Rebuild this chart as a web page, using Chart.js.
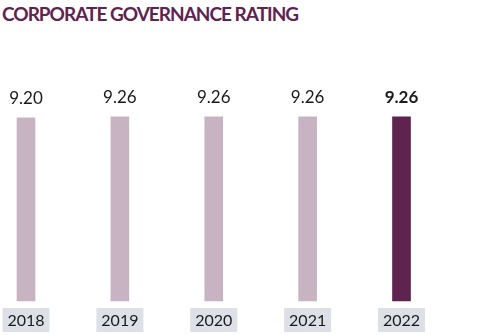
<!DOCTYPE html>
<html>
<head>
<meta charset="utf-8">
<script src="https://cdn.jsdelivr.net/npm/chart.js@4"></script>
<style>
  html, body { margin: 0; padding: 0; background: #fff; }
  #wrap { position: relative; width: 500px; height: 335px; }
  #titulo {
    position: absolute; left: 2px; top: 2px;
    font-family: Lato, sans-serif; font-weight: 700; font-size: 19px;
    color: #5f2350; letter-spacing: -1px; white-space: nowrap;
  }
  #grafico { position: absolute; left: 0; top: 0; }
</style>
</head>
<body>
<div id="wrap">
  <div id="titulo">CORPORATE GOVERNANCE RATING</div>
  <canvas id="grafico" width="500" height="335"></canvas>
</div>
<script>
const years = ["2018", "2019", "2020", "2021", "2022"];
const ratings = [9.20, 9.26, 9.26, 9.26, 9.26];
const ratingLabels = ["9.20", "9.26", "9.26", "9.26", "9.26"];

const claro = "#c8b3c2";
const oscuro = "#5f2350";

// valores encima de cada barra y años en cajitas grises debajo
const etiquetas = {
    id: "etiquetas",
    afterDatasetsDraw(chart) {
        const ctx = chart.ctx;
        const meta = chart.getDatasetMeta(0);
        const last = years.length - 1;
        ctx.save();
        ctx.textAlign = "center";
        ctx.textBaseline = "middle";
        meta.data.forEach((bar, i) => {
            ctx.fillStyle = "#1a1a1a";
            ctx.font = (i === last ? "bold " : "") + "17px Lato";
            ctx.fillText(ratingLabels[i], bar.x, bar.y - 19);
        });
        const xs = chart.scales.x;
        years.forEach((y, i) => {
            const x = xs.getPixelForValue(i);
            ctx.fillStyle = "#dde0e6";
            ctx.fillRect(x - 23.5, 308, 47, 24);
            ctx.fillStyle = "#1a1a1a";
            ctx.font = "16px Lato";
            ctx.fillText(y, x, 321);
        });
        ctx.restore();
    }
};

new Chart(document.getElementById("grafico"), {
    type: "bar",
    data: {
        labels: years,
        datasets: [{
            data: ratings,
            backgroundColor: (c) => c.dataIndex === years.length - 1 ? oscuro : claro,
            barThickness: 18,
            clip: false
        }]
    },
    options: {
        responsive: false,
        animation: false,
        layout: { padding: { left: 26, right: 98.5, top: 102, bottom: 34 } },
        plugins: { legend: { display: false }, tooltip: { enabled: false } },
        scales: {
            x: { offset: false, display: false, grid: { display: false } },
            y: { min: 0, max: 10, display: false }
        }
    },
    plugins: [etiquetas]
});
</script>
</body>
</html>
